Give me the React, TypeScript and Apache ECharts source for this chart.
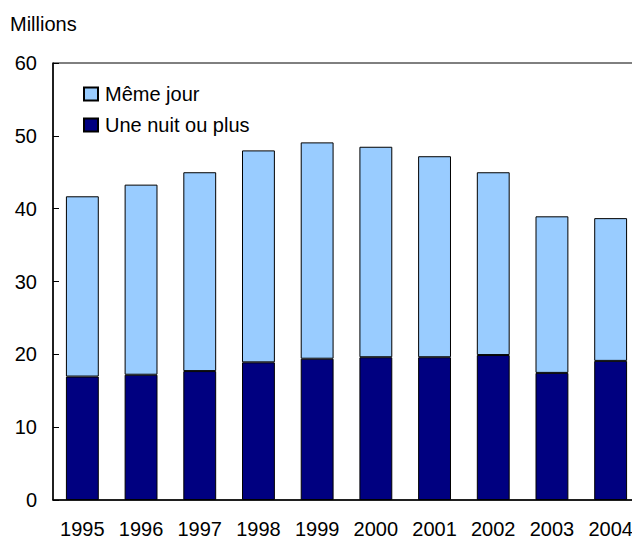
import React, { useEffect, useRef } from "react";
import * as echarts from "echarts";

const years = ["1995", "1996", "1997", "1998", "1999", "2000", "2001", "2002", "2003", "2004"];
const overnight = [16.95, 17.2, 17.7, 18.9, 19.4, 19.6, 19.6, 19.9, 17.45, 19.1];
const sameDay = [24.75, 26.1, 27.3, 29.1, 29.7, 28.9, 27.6, 25.1, 21.5, 19.6];
const yTicks = { min: 0, max: 60, interval: 10 };

const FONT = "Liberation Sans, Arial, sans-serif";

export default function App() {
  const ref = useRef<HTMLDivElement>(null);
  useEffect(() => {
    if (!ref.current) return;
    const chart = echarts.init(ref.current, null, { renderer: "svg" });
    chart.setOption({
      animation: false,
      backgroundColor: "#ffffff",
      textStyle: { fontFamily: FONT, color: "#000" },
      graphic: [
        {
          type: "text",
          left: 10,
          top: 14,
          style: { text: "Millions", font: `20px ${FONT}`, fill: "#000" },
        },
      ],
      legend: {
        orient: "vertical",
        left: 78,
        top: 79,
        itemWidth: 14,
        itemHeight: 13,
        itemGap: 11,
        icon: "rect",
        textStyle: { fontSize: 20, fontFamily: FONT, color: "#000", padding: [0, 0, 0, 2] },
        data: ["Même jour", "Une nuit ou plus"],
      },
      grid: {
        left: 53,
        top: 63,
        right: 1,
        bottom: 37,
        show: true,
        borderColor: "#000",
        borderWidth: 1,
        containLabel: false,
      },
      xAxis: {
        type: "category",
        data: years,
        axisLine: { lineStyle: { color: "#000", width: 1.5 } },
        axisTick: { show: false },
        axisLabel: { fontSize: 20, fontFamily: FONT, color: "#000", margin: 19 },
      },
      yAxis: {
        type: "value",
        min: yTicks.min,
        max: yTicks.max,
        interval: yTicks.interval,
        axisLine: { show: true, lineStyle: { color: "#000", width: 1.5 } },
        axisTick: { show: true, inside: true, length: 6, lineStyle: { color: "#000" } },
        splitLine: { show: false },
        axisLabel: { fontSize: 20, fontFamily: FONT, color: "#000", margin: 16 },
      },
      series: [
        {
          name: "Une nuit ou plus",
          type: "bar",
          stack: "t",
          data: overnight,
          barWidth: "56%",
          itemStyle: { color: "#000080", borderColor: "#000", borderWidth: 1 },
        },
        {
          name: "Même jour",
          type: "bar",
          stack: "t",
          data: sameDay,
          barWidth: "56%",
          itemStyle: { color: "#99CCFF", borderColor: "#000", borderWidth: 1 },
        },
      ],
    });
    return () => chart.dispose();
  }, []);
  return (
    <div
      ref={ref}
      style={{ position: "fixed", left: 0, top: 0, width: 641, height: 539 }}
    />
  );
}
